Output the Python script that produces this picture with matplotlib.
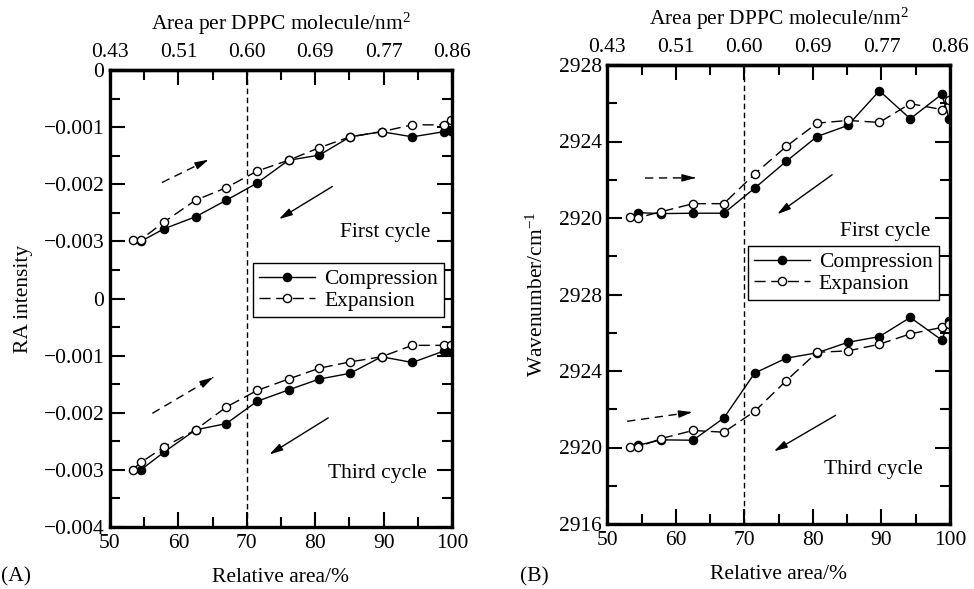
import numpy as np
import matplotlib
matplotlib.use("Agg")
import matplotlib.pyplot as plt

plt.rcParams['font.family'] = ['Liberation Serif', 'DejaVu Serif']
plt.rcParams['mathtext.fontset'] = 'custom'
plt.rcParams['mathtext.rm'] = 'Liberation Serif'
plt.rcParams['mathtext.it'] = 'Liberation Serif:italic'

# ---------------- data ----------------
rel_area = [53.3, 54.5, 57.9, 62.5, 67.0, 71.5, 76.1, 80.6, 85.1, 89.7, 94.2, 98.8, 99.9]
rel_area_comp = rel_area[1:]

# Panel A: RA intensity
ra_first_comp = [-0.0030, -0.00278, -0.00257, -0.00228, -0.00198, -0.00158, -0.00149,
                 -0.00117, -0.00108, -0.00117, -0.00108, -0.00107]
ra_first_exp = [-0.00297, -0.00297, -0.00266, -0.00228, -0.00206, -0.00177, -0.00158,
                -0.00136, -0.00117, -0.00108, -0.00096, -0.00096, -0.00087]
ra_third_comp = [-0.0030, -0.00269, -0.0023, -0.00219, -0.0018, -0.0016, -0.00141,
                 -0.00131, -0.00102, -0.00112, -0.00092, -0.00092]
ra_third_exp = [-0.0030, -0.00287, -0.0026, -0.0023, -0.0019, -0.00161, -0.00141,
                -0.00122, -0.00111, -0.00102, -0.00082, -0.00082, -0.00082]

# Panel B: wavenumber
wn_first_comp = [2920.28, 2920.23, 2920.25, 2920.25, 2921.56, 2922.96, 2924.26,
                 2924.84, 2926.65, 2925.19, 2926.47, 2925.19]
wn_first_exp = [2920.05, 2920.02, 2920.33, 2920.75, 2920.75, 2922.30, 2923.74,
                2924.96, 2925.10, 2925.00, 2925.98, 2925.67, 2926.16]
wn_third_comp = [2920.12, 2920.40, 2920.38, 2921.54, 2923.89, 2924.67, 2924.95,
                 2925.50, 2925.80, 2926.80, 2925.62, 2926.63]
wn_third_exp = [2920.03, 2920.03, 2920.47, 2920.89, 2920.80, 2921.89, 2923.49,
                2924.98, 2925.05, 2925.40, 2925.94, 2926.28, 2926.46]

# axis ticks / labels
x_ticks = [50, 60, 70, 80, 90, 100]
x_minor = [55, 65, 75, 85, 95]
top_tick_labels = ['0.43', '0.51', '0.60', '0.69', '0.77', '0.86']
ra_offset = -0.004
ra_ticks = [-0.008, -0.007, -0.006, -0.005, -0.004, -0.003, -0.002, -0.001, 0.0]
ra_tick_labels = ['\u22120.004', '\u22120.003', '\u22120.002', '\u22120.001', '0',
                  '\u22120.003', '\u22120.002', '\u22120.001', '0']
wn_offset = -12
wn_ticks = [2904, 2908, 2912, 2916, 2920, 2924, 2928]
wn_tick_labels = ['2916', '2920', '2924', '2928', '2920', '2924', '2928']
transition_area = 70

# arrows (annotation): (x0, y0, x1, y1, style)
ra_arrows = [(57.6, -0.00197, 64.4, -0.00157, 'dashed'),
             (82.5, -0.00204, 74.7, -0.00261, 'solid'),
             (56.2, -0.00201 + ra_offset, 65.1, -0.00138 + ra_offset, 'dashed'),
             (81.9, -0.00209 + ra_offset, 73.3, -0.00273 + ra_offset, 'solid')]
wn_arrows = [(55.5, 2922.09, 62.9, 2922.10, 'dashed'),
             (82.8, 2922.26, 74.8, 2920.20, 'solid'),
             (52.9, 2921.37 + wn_offset, 62.4, 2921.85 + wn_offset, 'dashed'),
             (83.3, 2921.68 + wn_offset, 74.3, 2919.80 + wn_offset, 'solid')]

FS = 15.5
TICKC = 'black'
fig = plt.figure(figsize=(9.74, 5.89), dpi=100)
axA = fig.add_axes([110/974, 1 - 527/589, 342/974, 457/589])
axB = fig.add_axes([607.3/974, 1 - 524/589, 342.7/974, 459/589])

comp_kw = dict(color='black', lw=1.0, marker='o', ms=5.9, mfc='black', mec='black')
exp_kw = dict(color='black', lw=1.0, marker='o', ms=5.9, mfc='white', mec='black',
              mew=1.0, dashes=(8, 4))


def style_axis(ax, yticks, ylabels, ylim, yminor):
    ax.set_xlim(50, 100)
    ax.set_ylim(*ylim)
    ax.set_xticks(x_ticks)
    ax.set_xticks(x_minor, minor=True)
    ax.set_yticks(yticks)
    ax.set_yticklabels(ylabels)
    ax.set_yticks(yminor, minor=True)
    ax.tick_params(which='both', direction='in', left=True, right=True, bottom=True,
                   top=False, labelsize=FS, width=1.5, color=TICKC)
    ax.tick_params(which='major', length=11)
    ax.tick_params(which='minor', length=7)
    ax.tick_params(axis='x', pad=5)
    ax.tick_params(axis='y', pad=4)
    for s in ax.spines.values():
        s.set_linewidth(2.4)
    sec = ax.secondary_xaxis('top')
    sec.set_xticks(x_ticks)
    sec.set_xticklabels(top_tick_labels)
    sec.set_xticks(x_minor, minor=True)
    sec.tick_params(which='both', direction='in', labelsize=FS, width=1.5, pad=5.5, color=TICKC)
    sec.tick_params(which='major', length=11)
    sec.tick_params(which='minor', length=7)
    sec.spines['top'].set_linewidth(2.4)
    sec.set_xlabel('Area per DPPC molecule/nm$^2$', fontsize=FS, labelpad=10)
    ax.set_xlabel('Relative area/%', fontsize=FS, labelpad=11)
    ax.axvline(transition_area, color='black', lw=1.0, dashes=(4, 2.5))


def draw_arrows(ax, arrows):
    for x0, y0, x1, y1, st in arrows:
        if st == 'dashed':
            ax.plot([x0, x1], [y0, y1], color='black', lw=1.0, dashes=(6, 4))
            ax.annotate('', xy=(x1, y1), xytext=(x0 + 0.9 * (x1 - x0), y0 + 0.9 * (y1 - y0)),
                        arrowprops=dict(arrowstyle='-|>,head_length=0.8,head_width=0.22',
                                        color='black', lw=1.0, shrinkA=0, shrinkB=0))
        else:
            ax.annotate('', xy=(x1, y1), xytext=(x0, y0),
                        arrowprops=dict(arrowstyle='-|>,head_length=0.8,head_width=0.22',
                                        color='black', lw=1.0, shrinkA=0, shrinkB=0))


# ---- Panel A ----
style_axis(axA, ra_ticks, ra_tick_labels, (-0.008, 0.0),
           np.arange(-0.0075, 0, 0.001))
axA.plot(rel_area_comp, ra_first_comp, label='Compression', **comp_kw)
axA.plot(rel_area, ra_first_exp, label='Expansion', **exp_kw)
axA.plot(rel_area_comp, np.array(ra_third_comp) + ra_offset, **comp_kw)
axA.plot(rel_area, np.array(ra_third_exp) + ra_offset, **exp_kw)
draw_arrows(axA, ra_arrows)
axA.set_ylabel('RA intensity', fontsize=FS, labelpad=8)
axA.text(0.936, 0.645, 'First cycle', transform=axA.transAxes, ha='right', va='center', fontsize=FS)
axA.text(0.927, 0.118, 'Third cycle', transform=axA.transAxes, ha='right', va='center', fontsize=FS)
legA = axA.legend(loc='upper left', bbox_to_anchor=(0.418, 0.578), borderaxespad=0,
                  fontsize=FS, frameon=True, fancybox=False, edgecolor='black',
                  framealpha=1, handlelength=2.6, handletextpad=0.4, borderpad=0.3,
                  labelspacing=0.05)
legA.get_frame().set_linewidth(1.0)

# ---- Panel B ----
style_axis(axB, wn_ticks, wn_tick_labels, (2904, 2928), np.arange(2906, 2928, 4))
axB.plot(rel_area_comp, wn_first_comp, label='Compression', **comp_kw)
axB.plot(rel_area, wn_first_exp, label='Expansion', **exp_kw)
axB.plot(rel_area_comp, np.array(wn_third_comp) + wn_offset, **comp_kw)
axB.plot(rel_area, np.array(wn_third_exp) + wn_offset, **exp_kw)
draw_arrows(axB, wn_arrows)
axB.set_ylabel('Wavenumber/cm$^{-1}$', fontsize=FS, labelpad=8)
axB.text(0.942, 0.638, 'First cycle', transform=axB.transAxes, ha='right', va='center', fontsize=FS)
axB.text(0.921, 0.118, 'Third cycle', transform=axB.transAxes, ha='right', va='center', fontsize=FS)
legB = axB.legend(loc='upper left', bbox_to_anchor=(0.41, 0.606), borderaxespad=0,
                  fontsize=FS, frameon=True, fancybox=False, edgecolor='black',
                  framealpha=1, handlelength=2.6, handletextpad=0.4, borderpad=0.3,
                  labelspacing=0.05)
legB.get_frame().set_linewidth(1.0)

fig.text(16/974, 1 - 577/589, '(A)', fontsize=FS, ha='center', va='center')
fig.text(534/974, 1 - 577/589, '(B)', fontsize=FS, ha='center', va='center')

fig.savefig('out.png', dpi=100)
